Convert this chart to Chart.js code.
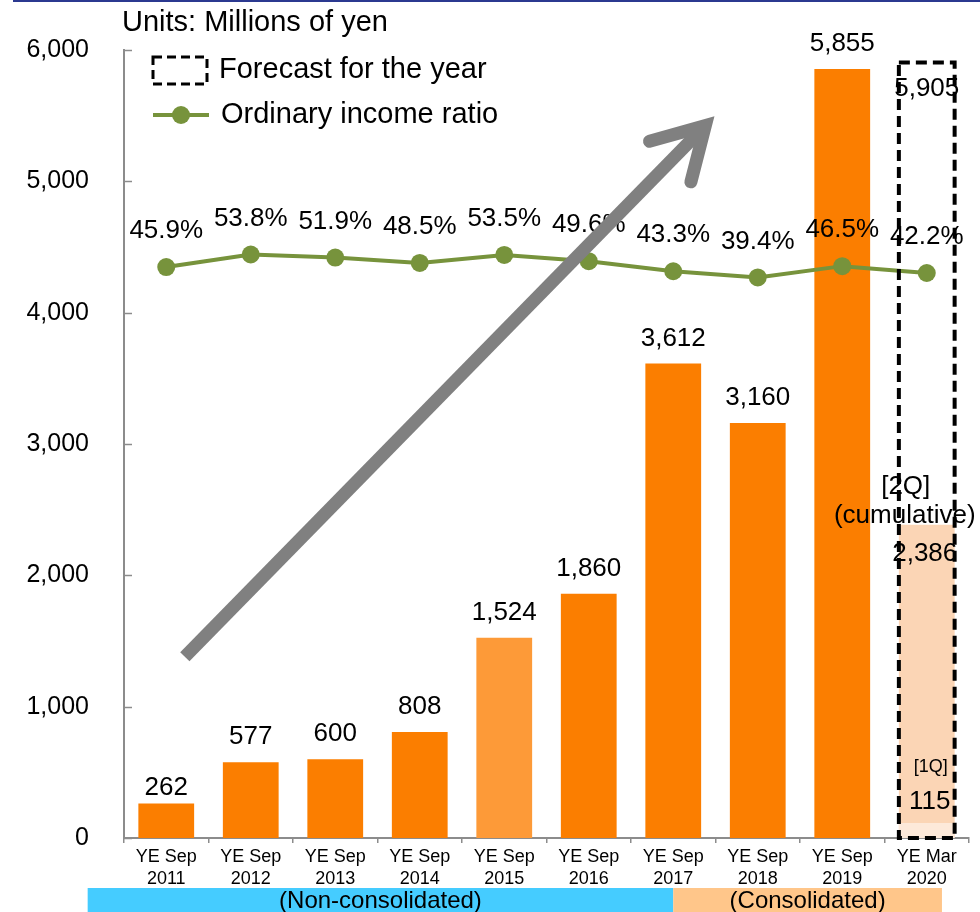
<!DOCTYPE html>
<html>
<head>
<meta charset="utf-8">
<script src="https://cdn.jsdelivr.net/npm/chart.js@4/dist/chart.umd.min.js"></script>
<style>
  html, body { margin: 0; padding: 0; background: #fff; }
  #wrap { width: 980px; height: 912px; position: relative; }
</style>
</head>
<body>
<div id="wrap"><canvas id="chart"></canvas></div>
<script>
// chart data
const categories = [
    ['YE Sep', '2011'], ['YE Sep', '2012'], ['YE Sep', '2013'], ['YE Sep', '2014'], ['YE Sep', '2015'],
    ['YE Sep', '2016'], ['YE Sep', '2017'], ['YE Sep', '2018'], ['YE Sep', '2019'], ['YE Mar', '2020']
];
const ordinaryIncome = [262, 577, 600, 808, 1524, 1860, 3612, 3160, 5855, null];
const forecastFY = [null, null, null, null, null, null, null, null, null, 5905];
const cumulative2Q = [null, null, null, null, null, null, null, null, null, 2386];
const firstQuarter = [null, null, null, null, null, null, null, null, null, 115];
const incomeRatio = [45.9, 53.8, 51.9, 48.5, 53.5, 49.6, 43.3, 39.4, 46.5, 42.2];

const FONT = "'Liberation Sans', Arial, sans-serif";
const ORANGE = '#FB7E00';
const ORANGE_LIGHT = '#FD9A38';
const GREEN = '#77933C';
const AXIS_GREY = '#8C8C8C';

const barColors = ordinaryIncome.map((v, i) => i === 4 ? ORANGE_LIGHT : ORANGE);

// decorations (in category index / value units)
const arrowFrom = { x: 0.22, y: 1380 };
const arrowTo = { x: 6.38, y: 5424 };
const bands = [
    { from: -0.93, to: 6, text: '(Non-consolidated)', color: '#45CCFF' },
    { from: 6, to: 9.18, text: '(Consolidated)', color: '#FFC68A' }
];

const fmt = (v) => v.toLocaleString('en-US');

const decorations = {
    id: 'decorations',
    beforeDraw(chart) {
        const ctx = chart.ctx;
        ctx.save();
        // top rule
        ctx.fillStyle = '#2B3990';
        ctx.fillRect(13, 0, 980, 2);
        ctx.restore();
    },
    afterDatasetsDraw(chart) {
        const ctx = chart.ctx;
        const x = chart.scales.x;
        const y = chart.scales.y;
        ctx.save();

        // dashed forecast box
        const fc = chart.getDatasetMeta(1).data[9];
        ctx.strokeStyle = '#000';
        ctx.lineWidth = 4;
        ctx.setLineDash([11, 6]);
        ctx.strokeRect(fc.x - fc.width / 2, fc.y, fc.width, fc.base - fc.y);
        ctx.setLineDash([]);

        // bar value labels
        ctx.fillStyle = '#000';
        ctx.font = '26px ' + FONT;
        ctx.textAlign = 'center';
        ctx.textBaseline = 'middle';
        const barMeta = chart.getDatasetMeta(0);
        ordinaryIncome.forEach((v, i) => {
            if (v == null) return;
            const el = barMeta.data[i];
            ctx.fillText(fmt(v), el.x, el.y - (i === 0 ? 16 : 25));
        });

        // forecast / quarter labels
        ctx.fillText(fmt(forecastFY[9]), fc.x, fc.y + 26);
        const q2 = chart.getDatasetMeta(2).data[9];
        ctx.fillText('[2Q]', q2.x - 21, q2.y - 38);
        ctx.fillText('(cumulative)', q2.x - 22, q2.y - 9);
        ctx.fillText(fmt(cumulative2Q[9]), q2.x - 2, q2.y + 29);
        const q1 = chart.getDatasetMeta(3).data[9];
        ctx.fillText(fmt(firstQuarter[9]), q1.x + 3, q1.y - 21);
        ctx.font = '18px ' + FONT;
        ctx.fillText('[1Q]', q1.x + 4, q1.y - 56);

        // ratio labels
        ctx.font = '26px ' + FONT;
        const lineMeta = chart.getDatasetMeta(4);
        incomeRatio.forEach((v, i) => {
            const pt = lineMeta.data[i];
            ctx.fillText(v.toFixed(1) + '%', pt.x, pt.y - 36);
        });

        // big grey arrow
        const x0 = x.getPixelForValue(arrowFrom.x), y0 = y.getPixelForValue(arrowFrom.y);
        const x1 = x.getPixelForValue(arrowTo.x), y1 = y.getPixelForValue(arrowTo.y);
        const ang = Math.atan2(y1 - y0, x1 - x0);
        const wing = 58, spread = Math.PI / 6;
        ctx.strokeStyle = '#808080';
        ctx.lineWidth = 13;
        ctx.lineCap = 'butt';
        ctx.beginPath();
        ctx.moveTo(x0, y0);
        ctx.lineTo(x1 - 4 * Math.cos(ang), y1 - 4 * Math.sin(ang));
        ctx.stroke();
        ctx.lineCap = 'round';
        ctx.lineJoin = 'miter';
        ctx.beginPath();
        ctx.moveTo(x1 - wing * Math.cos(ang - spread), y1 - wing * Math.sin(ang - spread));
        ctx.lineTo(x1, y1);
        ctx.lineTo(x1 - wing * Math.cos(ang + spread), y1 - wing * Math.sin(ang + spread));
        ctx.stroke();
        ctx.restore();
    },
    afterDraw(chart) {
        const ctx = chart.ctx;
        const x = chart.scales.x;
        const y = chart.scales.y;
        const area = chart.chartArea;
        ctx.save();

        // inward ticks on value axis
        ctx.strokeStyle = AXIS_GREY;
        ctx.lineWidth = 1.5;
        y.ticks.forEach((t) => {
            const py = Math.round(y.getPixelForValue(t.value)) + 0.5;
            ctx.beginPath();
            ctx.moveTo(area.left, py);
            ctx.lineTo(area.left + 8, py);
            ctx.stroke();
        });

        // units + legend
        ctx.fillStyle = '#000';
        ctx.font = '29px ' + FONT;
        ctx.textAlign = 'left';
        ctx.textBaseline = 'middle';
        ctx.fillText('Units: Millions of yen', 122, 23);

        ctx.strokeStyle = '#000';
        ctx.lineWidth = 3;
        ctx.setLineDash([9, 5]);
        ctx.strokeRect(153, 57, 54, 27);
        ctx.setLineDash([]);
        ctx.fillText('Forecast for the year', 219, 70);

        ctx.strokeStyle = GREEN;
        ctx.lineWidth = 4;
        ctx.beginPath();
        ctx.moveTo(153, 115);
        ctx.lineTo(209, 115);
        ctx.stroke();
        ctx.fillStyle = GREEN;
        ctx.beginPath();
        ctx.arc(181, 115, 9, 0, Math.PI * 2);
        ctx.fill();
        ctx.fillStyle = '#000';
        ctx.fillText('Ordinary income ratio', 221, 115);

        // bottom bands
        ctx.font = '24px ' + FONT;
        ctx.textAlign = 'center';
        bands.forEach((b) => {
            const bx0 = x.getPixelForValue(b.from);
            const bx1 = x.getPixelForValue(b.to);
            ctx.fillStyle = b.color;
            ctx.fillRect(bx0, 888, bx1 - bx0, 24);
            ctx.fillStyle = '#000';
            ctx.fillText(b.text, (bx0 + bx1) / 2, 901);
        });
        ctx.restore();
    }
};

const ctx = document.getElementById('chart').getContext('2d');
new Chart(ctx, {
    type: 'bar',
    data: {
        labels: categories,
        datasets: [
            {
                label: 'Ordinary income',
                data: ordinaryIncome,
                backgroundColor: barColors,
                order: 4,
            },
            {
                label: 'Forecast for the year',
                data: forecastFY,
                backgroundColor: 'rgba(0,0,0,0)',
                order: 1,
            },
            {
                label: '2Q cumulative',
                data: cumulative2Q,
                backgroundColor: '#FBD5B5',
                order: 3,
            },
            {
                label: '1Q',
                data: firstQuarter,
                backgroundColor: '#FDE9D9',
                order: 2,
            },
            {
                type: 'line',
                label: 'Ordinary income ratio',
                data: incomeRatio,
                yAxisID: 'y1',
                borderColor: GREEN,
                backgroundColor: GREEN,
                borderWidth: 4,
                pointRadius: 9,
                pointBorderWidth: 0,
                tension: 0,
                order: 0,
            },
        ],
    },
    options: {
        responsive: true,
        maintainAspectRatio: false,
        animation: false,
        datasets: {
            bar: { grouped: false, categoryPercentage: 1, barPercentage: 0.66 },
        },
        layout: { padding: { top: 50, right: 11, bottom: 0, left: 0 } },
        plugins: {
            legend: { display: false },
            tooltip: { enabled: false },
            title: { display: false },
        },
        scales: {
            x: {
                grid: {
                    display: true,
                    drawOnChartArea: false,
                    tickLength: 5,
                    color: AXIS_GREY,
                    lineWidth: 1.5,
                },
                border: { display: true, color: AXIS_GREY, width: 2 },
                ticks: {
                    color: '#000',
                    font: { family: FONT, size: 18, lineHeight: 1.17 },
                    padding: 4,
                    maxRotation: 0,
                    autoSkip: false,
                },
                afterFit: (scale) => { scale.height = 74; },
            },
            y: {
                min: 0,
                max: 6000,
                grid: { display: false, drawTicks: false },
                border: { display: true, color: AXIS_GREY, width: 2 },
                ticks: {
                    stepSize: 1000,
                    color: '#000',
                    font: { family: FONT, size: 25 },
                    padding: 35,
                    callback: (v) => fmt(v),
                },
                afterFit: (scale) => { scale.width = 124; },
            },
            y1: {
                display: false,
                min: -312,
                max: 182,
            },
        },
    },
    plugins: [decorations],
});
</script>
</body>
</html>
